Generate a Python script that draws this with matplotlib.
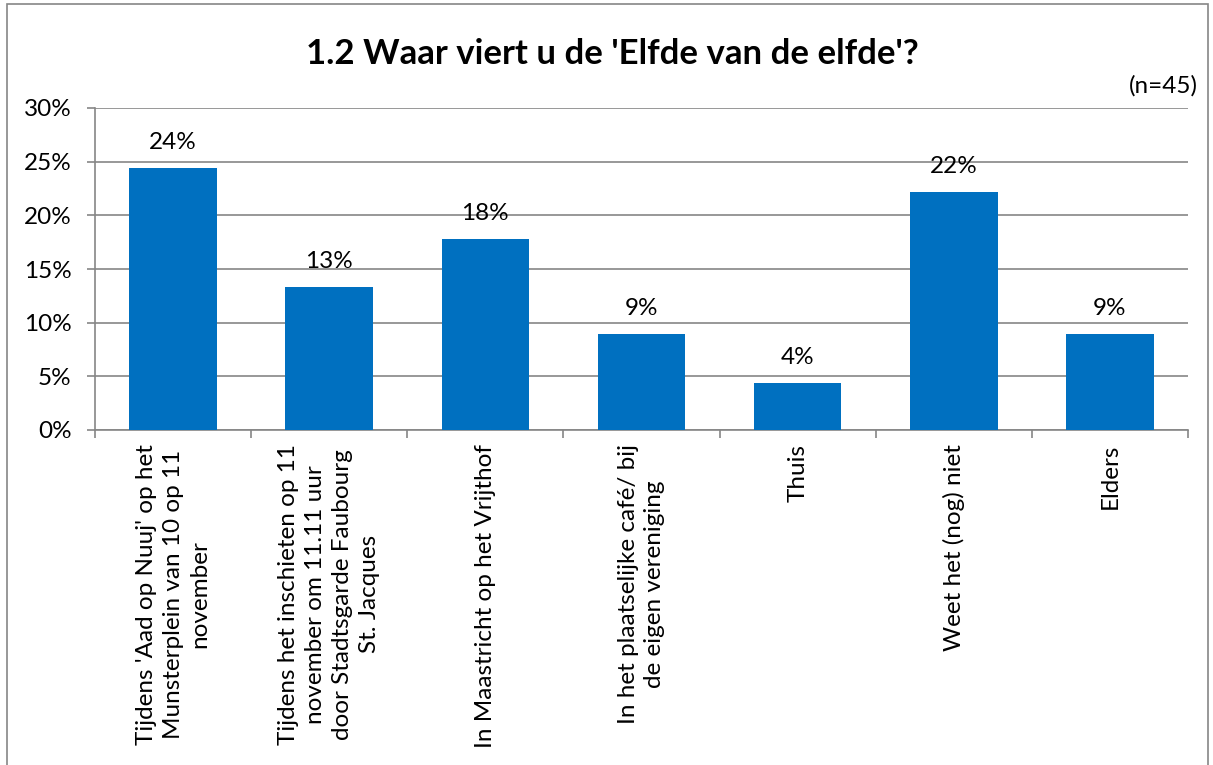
import matplotlib.pyplot as plt
from matplotlib.patches import Rectangle
from matplotlib.ticker import FuncFormatter, FixedLocator

categories = [
    "Tijdens 'Aad op Nuuj' op het\nMunsterplein van 10 op 11\nnovember",
    "Tijdens het inschieten op 11\nnovember om 11.11 uur\ndoor Stadtsgarde Faubourg\nSt. Jacques",
    "In Maastricht op het Vrijthof",
    "In het plaatselijke café/ bij\nde eigen vereniging",
    "Thuis",
    "Weet het (nog) niet",
    "Elders",
]
values = [24.4, 13.3, 17.8, 8.9, 4.4, 22.2, 8.9]
labels = ["24%", "13%", "18%", "9%", "4%", "22%", "9%"]

plt.rcParams['font.family'] = ['Lato', 'DejaVu Sans']

fig = plt.figure(figsize=(12.13, 7.65), dpi=100)
ax = fig.add_axes([95 / 1213, 1 - 430 / 765, 1093 / 1213, 322 / 765])

x = range(len(values))
ax.bar(x, values, width=0.56, color='#0070C0', zorder=3)
for i, (v, lab) in enumerate(zip(values, labels)):
    ax.text(i, v + 1.4, lab, ha='center', va='bottom', fontsize=17.5, color='black')

ax.set_xlim(-0.5, len(values) - 0.5)
ax.set_ylim(0, 30)
ax.set_yticks(range(0, 31, 5))
ax.yaxis.set_major_formatter(FuncFormatter(lambda v, p: f"{int(v)}%"))
ax.grid(axis='y', color='#868686', linewidth=1.2, zorder=0)

ax.set_xticks(list(x))
ax.set_xticklabels(categories, rotation=90, ha='center', va='top',
                   multialignment='center', fontsize=17.5, linespacing=1.35)
ax.xaxis.set_minor_locator(FixedLocator([i - 0.5 for i in range(len(values) + 1)]))
ax.tick_params(axis='x', which='major', length=0, pad=10)
ax.tick_params(axis='x', which='minor', length=6, color='#868686', width=1.2)
ax.tick_params(axis='y', length=6, color='#868686', width=1.2, labelsize=17.5, pad=11)

for s in ['top', 'right']:
    ax.spines[s].set_visible(False)
for s in ['left', 'bottom']:
    ax.spines[s].set_color('#868686')
    ax.spines[s].set_linewidth(1.2)

fig.text(612 / 1213, 1 - 54 / 765, "1.2 Waar viert u de 'Elfde van de elfde'?",
         ha='center', va='center', fontsize=25, fontweight='bold')
fig.text(1198 / 1213, 1 - 86 / 765, "(n=45)", ha='right', va='center', fontsize=17.5)

fig.patches.append(Rectangle((7 / 1213, -0.01), 1201 / 1213, 1.005, transform=fig.transFigure,
                             fill=False, edgecolor='#868686', linewidth=1.2))

fig.savefig('out.png', dpi=100)
